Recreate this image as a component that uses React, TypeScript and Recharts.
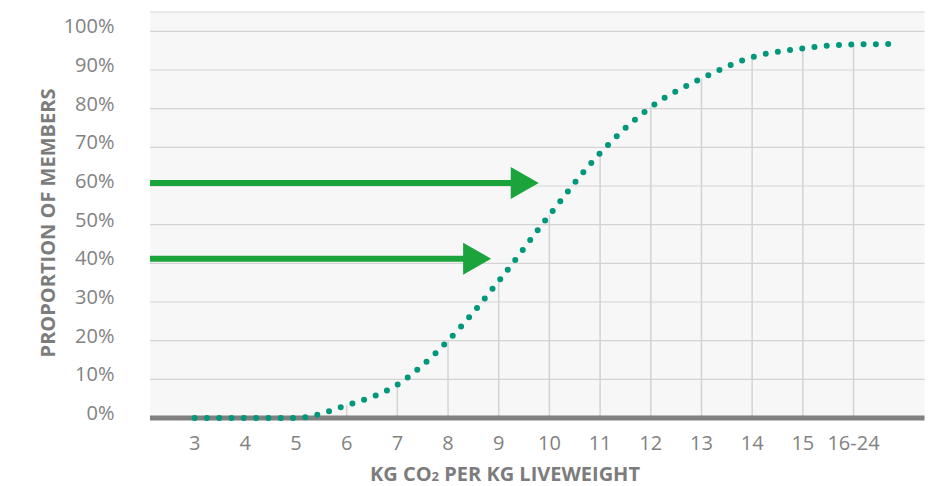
import { LineChart, Line, XAxis, YAxis, CartesianGrid, ReferenceLine } from 'recharts'

// kg CO2 per kg liveweight (16.7 = end of the "16-24" band)
const kgCo2 = [3, 4, 5, 6, 7, 8, 9, 10, 11, 12, 13, 14, 15, 16, 16.7]
// cumulative proportion of members, %
const memberShare = [0, 0, 0, 3.3, 8.6, 20, 35.4, 52.5, 68.5, 80.4, 87.8, 93.3, 95.6, 96.6, 96.7]

const xTicks = [3, 4, 5, 6, 7, 8, 9, 10, 11, 12, 13, 14, 15, 16]
const xTickLabels = ['3', '4', '5', '6', '7', '8', '9', '10', '11', '12', '13', '14', '15', '16-24']
const yTicks = [0, 10, 20, 30, 40, 50, 60, 70, 80, 90, 100]

// green arrows: level (%) and where the tip lands on the x scale
const arrowLevels = [60.8, 41.2]
const arrowTips = [9.79, 8.85]

const X_MIN = 2.12
const X_MAX = 17.4

const FONT = '"Open Sans", "Noto Sans", sans-serif'
const GREY = '#828282'
const ARROW = '#1ba43c'
const DOTS = '#00977a'

const data = kgCo2.map((x, i) => ({ x, share: memberShare[i] }))

function ArrowShape(props: any) {
  const { x1, y1, x2 } = props
  const head = 28
  const half = 16
  return (
    <g>
      <line x1={x1} y1={y1} x2={x2 - head + 2} y2={y1} stroke={ARROW} strokeWidth={6} />
      <polygon points={`${x2 - head},${y1 - half} ${x2},${y1} ${x2 - head},${y1 + half}`} fill={ARROW} />
    </g>
  )
}

function XTick({ x, y, payload }: any) {
  const idx = xTicks.indexOf(payload.value)
  return (
    <text x={x} y={y + 32} textAnchor="middle" fill={GREY} fontSize={20} fontFamily={FONT}>
      {xTickLabels[idx] ?? payload.value}
    </text>
  )
}

function YTick({ x, y, payload }: any) {
  return (
    <text x={x} y={y + 2} textAnchor="end" fill={GREY} fontSize={20} fontFamily={FONT}>
      {payload.value}%
    </text>
  )
}

const xLabel = () => (
  <text x={505} y={481} textAnchor="middle" fill="#7c7c7c" fontSize={20} fontWeight={700} fontFamily={FONT}>
    KG CO<tspan fontSize={13}>2</tspan> PER KG LIVEWEIGHT
  </text>
)

const yLabel = () => (
  <text
    x={55}
    y={223}
    transform="rotate(-90 55 223)"
    textAnchor="middle"
    fill="#7c7c7c"
    fontSize={20}
    fontWeight={700}
    fontFamily={FONT}
  >
    PROPORTION OF MEMBERS
  </text>
)

export default function App() {
  const drops = data.filter((d) => Number.isInteger(d.x) && d.share > 0)

  return (
    <div style={{ position: 'absolute', left: 0, top: 0, width: 936, height: 486, background: '#fff' }}>
      <LineChart width={936} height={486} data={data} margin={{ top: 12, right: 11.5, bottom: 8, left: 0 }}>
        <CartesianGrid vertical={false} fill="#f7f7f7" stroke="#d3d3d3" strokeWidth={1.2} />
        <XAxis
          type="number"
          dataKey="x"
          domain={[X_MIN, X_MAX]}
          ticks={xTicks}
          allowDataOverflow
          height={60}
          axisLine={false}
          tickLine={false}
          tickSize={0}
          tickMargin={0}
          tick={<XTick />}
          label={xLabel}
        />
        <YAxis
          type="number"
          domain={[0, 105]}
          ticks={yTicks}
          width={150}
          axisLine={false}
          tickLine={false}
          tickSize={0}
          tickMargin={35.5}
          tick={<YTick />}
          label={yLabel}
        />
        {drops.map((d) => (
          <ReferenceLine
            key={`drop-${d.x}`}
            segment={[
              { x: d.x, y: 0 },
              { x: d.x, y: d.share },
            ]}
            stroke="#d3d3d3"
            strokeWidth={1.5}
          />
        ))}
        <ReferenceLine y={0} stroke="#808080" strokeWidth={5} />
        {arrowLevels.map((lvl, i) => (
          <ReferenceLine
            key={`arrow-${i}`}
            segment={[
              { x: X_MIN, y: lvl },
              { x: arrowTips[i], y: lvl },
            ]}
            shape={(p: any) => <ArrowShape {...p} />}
          />
        ))}
        <Line
          type="monotone"
          dataKey="share"
          stroke={DOTS}
          strokeWidth={6}
          strokeDasharray="0 12.3"
          strokeLinecap="round"
          dot={false}
          activeDot={false}
          isAnimationActive={false}
        />
      </LineChart>
    </div>
  )
}
